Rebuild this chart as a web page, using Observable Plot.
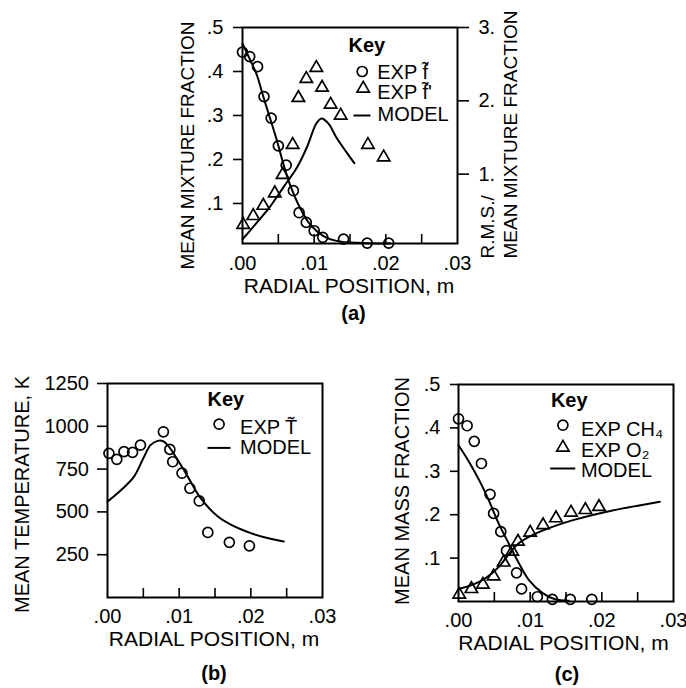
<!DOCTYPE html>
<html><head><meta charset="utf-8">
<script src="https://cdn.jsdelivr.net/npm/d3@7"></script>
<script src="https://cdn.jsdelivr.net/npm/@observablehq/plot@0.6"></script>
<style>
body{margin:0;background:#fff;}
#wrap{position:relative;width:686px;height:688px;background:#fff;overflow:hidden;}
#wrap > svg{position:absolute;}
</style></head><body><div id="wrap"></div>
<script>
// ---------- tick labels ----------
const xMinorTicks = [0.005, 0.01, 0.015, 0.02, 0.025];
const xLabelTicks = [0, 0.01, 0.02, 0.03];
const yTicksA = [0.1, 0.2, 0.3, 0.4, 0.5];
const rightTicksA = [1, 2, 3];
const yTicksB = [250, 500, 750, 1000, 1250];
const yTicksC = [0.1, 0.2, 0.3, 0.4, 0.5];

// ---------- panel (a): mixture fraction ----------
const xMeanExpA = [0.0000, 0.0010, 0.0021, 0.0030, 0.0040, 0.0050, 0.0061, 0.0071, 0.0079, 0.0089, 0.0100, 0.0112, 0.0141, 0.0174, 0.0204];
const meanExpA  = [0.444, 0.434, 0.411, 0.343, 0.294, 0.231, 0.187, 0.129, 0.079, 0.057, 0.038, 0.023, 0.019, 0.010, 0.010];
const xRmsExpA  = [0.0001, 0.0015, 0.0029, 0.0045, 0.0056, 0.0070, 0.0078, 0.0089, 0.0103, 0.0111, 0.0123, 0.0137, 0.0175, 0.0197];
const rmsExpA   = [0.31, 0.43, 0.57, 0.74, 0.99, 1.40, 2.04, 2.30, 2.45, 2.18, 1.95, 1.80, 1.40, 1.23];
const xMeanModelA = [0.0000, 0.0011, 0.0020, 0.0029, 0.0038, 0.0048, 0.0057, 0.0066, 0.0080, 0.0094, 0.0113, 0.0131, 0.0165, 0.0206];
const meanModelA  = [0.463, 0.425, 0.392, 0.343, 0.296, 0.243, 0.190, 0.144, 0.091, 0.053, 0.026, 0.015, 0.010, 0.009];
const xRmsModelA = [0.0000, 0.0020, 0.0038, 0.0057, 0.0076, 0.0090, 0.0103, 0.0110, 0.0120, 0.0131, 0.0145, 0.0156];
const rmsModelA  = [0.11, 0.34, 0.55, 0.82, 1.09, 1.37, 1.69, 1.76, 1.69, 1.50, 1.30, 1.15];

// ---------- panel (b): temperature ----------
const xTempExp = [0.0002, 0.0013, 0.0023, 0.0035, 0.0046, 0.0078, 0.0087, 0.0091, 0.0104, 0.0115, 0.0128, 0.0140, 0.0170, 0.0198];
const tempExp  = [842, 807, 852, 848, 890, 968, 865, 793, 726, 638, 564, 380, 322, 302];
const xTempModel = [0.0000, 0.0019, 0.0037, 0.0051, 0.0060, 0.0070, 0.0077, 0.0084, 0.0098, 0.0112, 0.0130, 0.0154, 0.0177, 0.0200, 0.0223, 0.0246];
const tempModel  = [560, 628, 706, 822, 890, 915, 914, 890, 803, 706, 580, 473, 415, 376, 347, 327];

// ---------- panel (c): mass fractions ----------
const xCh4Exp = [0.0000, 0.0012, 0.0022, 0.0032, 0.0044, 0.0049, 0.0059, 0.0067, 0.0081, 0.0088, 0.0110, 0.0131, 0.0156, 0.0186];
const ch4Exp  = [0.421, 0.405, 0.369, 0.318, 0.247, 0.203, 0.161, 0.117, 0.066, 0.029, 0.011, 0.005, 0.005, 0.005];
const xO2Exp = [0.0001, 0.0018, 0.0034, 0.0049, 0.0063, 0.0075, 0.0083, 0.0100, 0.0118, 0.0136, 0.0157, 0.0177, 0.0196];
const o2Exp  = [0.016, 0.029, 0.039, 0.058, 0.090, 0.115, 0.138, 0.159, 0.176, 0.192, 0.205, 0.211, 0.218];
const xCh4Model = [0.0000, 0.0015, 0.0029, 0.0042, 0.0056, 0.0070, 0.0084, 0.0098, 0.0117, 0.0135, 0.0154];
const ch4Model  = [0.360, 0.321, 0.279, 0.234, 0.180, 0.134, 0.089, 0.050, 0.020, 0.005, 0.002];
const xO2Model = [0.0000, 0.0020, 0.0038, 0.0057, 0.0071, 0.0084, 0.0103, 0.0131, 0.0161, 0.0207, 0.0254, 0.0281];
const o2Model  = [0.029, 0.039, 0.054, 0.081, 0.111, 0.134, 0.153, 0.172, 0.188, 0.207, 0.222, 0.230];

// ---------- helpers ----------
const FONT = "'Liberation Sans', Arial, Helvetica, sans-serif";
const pts = (xs, ys) => xs.map((x, i) => ({x, y: ys[i]}));
const fmtX = d => d3.format(".2f")(d).replace(/^0/, "");
const fmtY = d => d3.format(".1f")(d).replace(/^0/, "");
const dash = (half) => ({draw(ctx) { ctx.moveTo(-half, 0); ctx.lineTo(half, 0); }});
const style = {fontFamily: FONT, fontSize: "20px", color: "black", background: "transparent", overflow: "visible"};
const circ = {symbol: "circle", r: 5, stroke: "black", strokeWidth: 1.7, fill: "none"};
const tri = {symbol: "triangle", r: 4.6, stroke: "black", strokeWidth: 1.7, fill: "none"};
const mline = {x: "x", y: "y", curve: "catmull-rom", stroke: "black", strokeWidth: 2};
const TL = "top-left";
function xAxes(pad) {
  return [
    Plot.axisX(xMinorTicks, {tickSize: -9, tickFormat: () => "", strokeWidth: 1.6, label: null}),
    Plot.axisX(xLabelTicks, {tickSize: 0, tickPadding: pad, tickFormat: fmtX, label: null})
  ];
}
function legendText(t, dx, dy, extra = {}) {
  return Plot.text([t], {frameAnchor: TL, dx, dy, textAnchor: "start", lineAnchor: "middle", ...extra});
}
function yLabel(t, dx, dy, fontSize = 20) {
  return Plot.text([t], {frameAnchor: "left", dx, dy, rotate: -90, textAnchor: "middle", lineAnchor: "middle", fontSize});
}
function xLabel(t, dx, dy) {
  return Plot.text([t], {frameAnchor: "bottom", dx, dy, textAnchor: "middle", lineAnchor: "middle", fontSize: 21});
}
function panelTag(t, dx, dy) {
  return Plot.text([t], {frameAnchor: "bottom", dx, dy, textAnchor: "middle", lineAnchor: "middle", fontWeight: "bold"});
}

const wrap = document.getElementById("wrap");
function place(svg, left, top) { svg.style.left = left + "px"; svg.style.top = top + "px"; wrap.appendChild(svg); }

// ---------- (a) ----------
const pa = Plot.plot({
  width: 390, height: 340, marginLeft: 72, marginRight: 103, marginTop: 27, marginBottom: 97,
  style,
  x: {domain: [0, 0.03]},
  y: {domain: [0.009, 0.5]},
  marks: [
    ...xAxes(12),
    Plot.axisY(yTicksA, {tickSize: 9, tickPadding: 10, tickFormat: fmtY, strokeWidth: 1.6, label: null}),
    Plot.axisY(rightTicksA.map(d => d / 6), {anchor: "right", tickSize: 11, tickPadding: 10, strokeWidth: 1.6, tickFormat: d => `${Math.round(d * 6)}.`, label: null}),
    Plot.frame({strokeWidth: 2}),
    Plot.line(pts(xMeanModelA, meanModelA), mline),
    Plot.line(pts(xRmsModelA, rmsModelA), {...mline, y: d => d.y / 6}),
    Plot.dot(pts(xMeanExpA, meanExpA), {x: "x", y: "y", ...circ}),
    Plot.dot(pts(xRmsExpA, rmsExpA), {x: "x", y: d => d.y / 6, ...tri}),
    legendText("Key", 106, 18, {fontWeight: "bold"}),
    Plot.dot([null], {frameAnchor: TL, dx: 119.7, dy: 44, ...circ}),
    legendText("EXP f\u0303", 134.7, 45),
    Plot.dot([null], {frameAnchor: TL, dx: 120.7, dy: 61, ...tri}),
    legendText("EXP f\u0303'", 134.7, 65),
    Plot.dot([null], {frameAnchor: TL, dx: 119.5, dy: 88, symbol: dash(8.5), stroke: "black", strokeWidth: 2, fill: "none"}),
    legendText("MODEL", 135, 87),
    yLabel("MEAN MIXTURE FRACTION", -55, 10, 19),
    Plot.text(["R.M.S./"], {frameAnchor: "bottom-right", dx: 30, dy: 15, rotate: -90, textAnchor: "start", lineAnchor: "middle", fontSize: 19}),
    Plot.text(["MEAN MIXTURE FRACTION"], {frameAnchor: "bottom-right", dx: 53, dy: 15, rotate: -90, textAnchor: "start", lineAnchor: "middle", fontSize: 19}),
    xLabel("RADIAL POSITION, m", -1, 43),
    panelTag("(a)", 3.5, 70)
  ]
});
place(pa, 170, 0);

// ---------- (b) ----------
const pb = Plot.plot({
  width: 340, height: 338, marginLeft: 107, marginRight: 18, marginTop: 33, marginBottom: 91,
  style,
  x: {domain: [0, 0.03]},
  y: {domain: [0, 1250]},
  marks: [
    ...xAxes(11),
    Plot.axisY(yTicksB, {tickSize: 10, tickPadding: 8.5, tickFormat: d => String(d), strokeWidth: 1.6, label: null}),
    Plot.frame({strokeWidth: 2}),
    Plot.line(pts(xTempModel, tempModel), mline),
    Plot.dot(pts(xTempExp, tempExp), {x: "x", y: "y", ...circ}),
    legendText("Key", 100, 16, {fontWeight: "bold"}),
    Plot.dot([null], {frameAnchor: TL, dx: 111.6, dy: 40.7, ...circ}),
    legendText("EXP T\u0303", 132.6, 44),
    Plot.dot([null], {frameAnchor: TL, dx: 111.5, dy: 64.4, symbol: dash(11.5), stroke: "black", strokeWidth: 2, fill: "none"}),
    legendText("MODEL", 132.6, 64.4),
    yLabel("MEAN TEMPERATURE, K", -84.7, 4),
    xLabel("RADIAL POSITION, m", -1, 42),
    panelTag("(b)", -1, 75.6)
  ]
});
place(pb, 0, 350);

// ---------- (c) ----------
const pc = Plot.plot({
  width: 346, height: 338, marginLeft: 118, marginRight: 13, marginTop: 34, marginBottom: 87,
  style,
  x: {domain: [0, 0.03]},
  y: {domain: [0, 0.5]},
  marks: [
    ...xAxes(11),
    Plot.axisY(yTicksC, {tickSize: 8, tickPadding: 10, tickFormat: fmtY, strokeWidth: 1.6, label: null}),
    Plot.frame({strokeWidth: 2}),
    Plot.line(pts(xCh4Model, ch4Model), mline),
    Plot.line(pts(xO2Model, o2Model), mline),
    Plot.dot(pts(xCh4Exp, ch4Exp), {x: "x", y: "y", ...circ}),
    Plot.dot(pts(xO2Exp, o2Exp), {x: "x", y: "y", ...tri}),
    legendText("Key", 92.4, 16.4, {fontWeight: "bold"}),
    Plot.dot([null], {frameAnchor: TL, dx: 104.4, dy: 40.7, ...circ}),
    legendText("EXP CH\u2084", 122.4, 44.7),
    Plot.dot([null], {frameAnchor: TL, dx: 104.4, dy: 63, ...tri}),
    legendText("EXP O\u2082", 122.4, 66),
    Plot.dot([null], {frameAnchor: TL, dx: 104.2, dy: 84, symbol: dash(12.5), stroke: "black", strokeWidth: 2, fill: "none"}),
    legendText("MODEL", 122.4, 86),
    yLabel("MEAN MASS FRACTION", -56.3, -2),
    xLabel("RADIAL POSITION, m", -2.5, 42),
    panelTag("(c)", 1, 73)
  ]
});
place(pc, 340, 350);
</script>
</body></html>
